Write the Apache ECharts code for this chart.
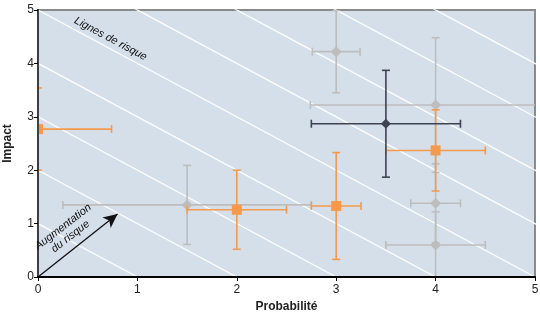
<!DOCTYPE html>
<html><head><meta charset="utf-8">
<script src="https://cdn.jsdelivr.net/npm/echarts@6/dist/echarts.min.js"></script>
<style>html,body{margin:0;padding:0;background:#fff}#c{width:540px;height:315px}</style>
</head><body><div id="c"></div>
<script>
// Axis ticks
var xTicks = [0, 1, 2, 3, 4, 5];
var yTicks = [0, 1, 2, 3, 4, 5];
// Risk lines: x + y = level
var riskLevels = [1, 2, 3, 4, 5, 6, 7, 8, 9];

// Gray series
var grayX = [3, 4, 4, 4, 1.5];
var grayY = [4.22, 3.22, 1.38, 0.6, 1.35];
var grayXErr = [0.24, 1.26, 0.25, 0.5, 1.25];
var grayYErr = [0.77, 1.26, 0.74, 0.62, 0.74];

// Orange series
var orangeX = [4, 3, 2, 0];
var orangeY = [2.37, 1.33, 1.26, 2.77];
var orangeXErr = [0.5, 0.25, 0.5, 0.74];
var orangeYErr = [0.76, 1.0, 0.74, 0.77];

// Dark series
var darkX = [3.5];
var darkY = [2.87];
var darkXErr = [0.75];
var darkYErr = [1.0];

// Arrow
var arrowFrom = [0, 0];
var arrowTo = [0.8, 1.18];

var XMIN = 0, XMAX = 5, YMIN = 0, YMAX = 5;

function rows(xs, ys, xe, ye) {
  return xs.map(function (x, i) { return [x, ys[i], xe[i], ye[i]]; });
}

function errSeries(name, xs, ys, xe, ye, color, marker, msize, z) {
  return {
    type: 'custom', name: name, clip: true, z: z, silent: true,
    data: rows(xs, ys, xe, ye),
    renderItem: function (params, api) {
      var x = api.value(0), y = api.value(1), ex = api.value(2), ey = api.value(3);
      var x0 = x - ex, x1 = x + ex, y0 = y - ey, y1 = y + ey;
      var cap = 4;
      var st = { stroke: color, lineWidth: 1.6 };
      var ch = [];
      var pL = api.coord([Math.max(x0, XMIN), y]);
      var pR = api.coord([Math.min(x1, XMAX), y]);
      var pB = api.coord([x, Math.max(y0, YMIN)]);
      var pT = api.coord([x, Math.min(y1, YMAX)]);
      ch.push({ type: 'line', shape: { x1: pL[0], y1: pL[1], x2: pR[0], y2: pR[1] }, style: st });
      ch.push({ type: 'line', shape: { x1: pB[0], y1: pB[1], x2: pT[0], y2: pT[1] }, style: st });
      if (x0 >= XMIN) ch.push({ type: 'line', shape: { x1: pL[0], y1: pL[1] - cap, x2: pL[0], y2: pL[1] + cap }, style: st });
      if (x1 <= XMAX) ch.push({ type: 'line', shape: { x1: pR[0], y1: pR[1] - cap, x2: pR[0], y2: pR[1] + cap }, style: st });
      if (y0 >= YMIN) ch.push({ type: 'line', shape: { x1: pB[0] - cap, y1: pB[1], x2: pB[0] + cap, y2: pB[1] }, style: st });
      if (y1 <= YMAX) ch.push({ type: 'line', shape: { x1: pT[0] - cap, y1: pT[1], x2: pT[0] + cap, y2: pT[1] }, style: st });
      var c = api.coord([x, y]);
      var h = msize / 2;
      if (marker === 'rect') {
        ch.push({ type: 'rect', shape: { x: c[0] - h, y: c[1] - h, width: msize, height: msize }, style: { fill: color } });
      } else {
        ch.push({ type: 'polygon', shape: { points: [[c[0], c[1] - h], [c[0] + h, c[1]], [c[0], c[1] + h], [c[0] - h, c[1]]] }, style: { fill: color } });
      }
      return { type: 'group', children: ch };
    }
  };
}

var chart = echarts.init(document.getElementById('c'), null, { renderer: 'canvas' });

var riskSeries = riskLevels.map(function (lv) {
  return {
    type: 'line', data: [[0, lv], [lv, 0]], symbol: 'none', silent: true, clip: true, z: 1,
    lineStyle: { color: '#ffffff', width: 1.3 }
  };
});

var fontFam = '"Liberation Sans", Arial, sans-serif';

var option = {
  animation: false,
  backgroundColor: '#ffffff',
  grid: { left: 38, right: 5, top: 10, bottom: 38, containLabel: false, outerBoundsMode: 'none', show: true, backgroundColor: '#d5dfea', borderColor: '#8a8a8a', borderWidth: 2 },
  xAxis: {
    type: 'value', min: XMIN, max: XMAX, interval: 1, z: 5,
    name: 'Probabilité', nameLocation: 'middle', nameGap: 23,
    nameTextStyle: { fontFamily: fontFam, fontWeight: 'bold', fontSize: 12, color: '#222' },
    axisLine: { show: true, onZero: false, lineStyle: { color: '#000', width: 2 } },
    axisTick: { show: true, length: 4, lineStyle: { color: '#000' } },
    axisLabel: { fontFamily: fontFam, fontSize: 12, color: '#222', margin: 7 },
    splitLine: { show: false }
  },
  yAxis: [{
    type: 'value', min: YMIN, max: YMAX, interval: 1, z: 5,
    name: 'Impact', nameLocation: 'middle', nameGap: 24, nameRotate: 90,
    nameTextStyle: { fontFamily: fontFam, fontWeight: 'bold', fontSize: 12, color: '#222' },
    axisLine: { show: true, onZero: false, lineStyle: { color: '#000', width: 2 } },
    axisTick: { show: true, length: 4, lineStyle: { color: '#000' } },
    axisLabel: { fontFamily: fontFam, fontSize: 12, color: '#222', margin: 4 },
    splitLine: { show: false }
  }, {
    type: 'value', min: YMIN, max: YMAX, interval: 1, position: 'right', z: 5,
    axisLine: { show: true, lineStyle: { color: '#555', width: 1.5 } },
    axisTick: { show: false }, axisLabel: { show: false }, splitLine: { show: false }
  }],
  series: riskSeries.concat([
    {
      type: 'line', data: [], silent: true, z: 4,
      markLine: {
        silent: true, symbol: ['none', 'arrow'], symbolSize: [10, 14], animation: false,
        label: { show: false },
        lineStyle: { color: '#111', width: 1.3, type: 'solid' },
        data: [[{ coord: arrowFrom }, { coord: arrowTo }]]
      }
    },
    errSeries('gray', grayX, grayY, grayXErr, grayYErr, '#bdbdbd', 'diamond', 11, 2),
    errSeries('orange', orangeX, orangeY, orangeXErr, orangeYErr, '#f59a4c', 'rect', 10, 3),
    errSeries('dark', darkX, darkY, darkXErr, darkYErr, '#3e4350', 'diamond', 10, 4)
  ])
};
chart.setOption(option);

var p1 = chart.convertToPixel({ gridIndex: 0 }, [0.73, 4.46]);
var p2 = chart.convertToPixel({ gridIndex: 0 }, [0.29, 0.85]);
chart.setOption({
  graphic: [
    { type: 'text', x: p1[0], y: p1[1], rotation: -0.49, z: 10,
      style: { text: 'Lignes de risque', font: 'italic 11px ' + fontFam, fill: '#111', align: 'center', verticalAlign: 'middle' } },
    { type: 'text', x: p2[0], y: p2[1], rotation: 0.66, z: 10,
      style: { text: 'Augmentation\ndu risque', font: 'italic 11px ' + fontFam, fill: '#111', align: 'center', verticalAlign: 'middle', lineHeight: 12 } }
  ]
});
</script></body></html>
